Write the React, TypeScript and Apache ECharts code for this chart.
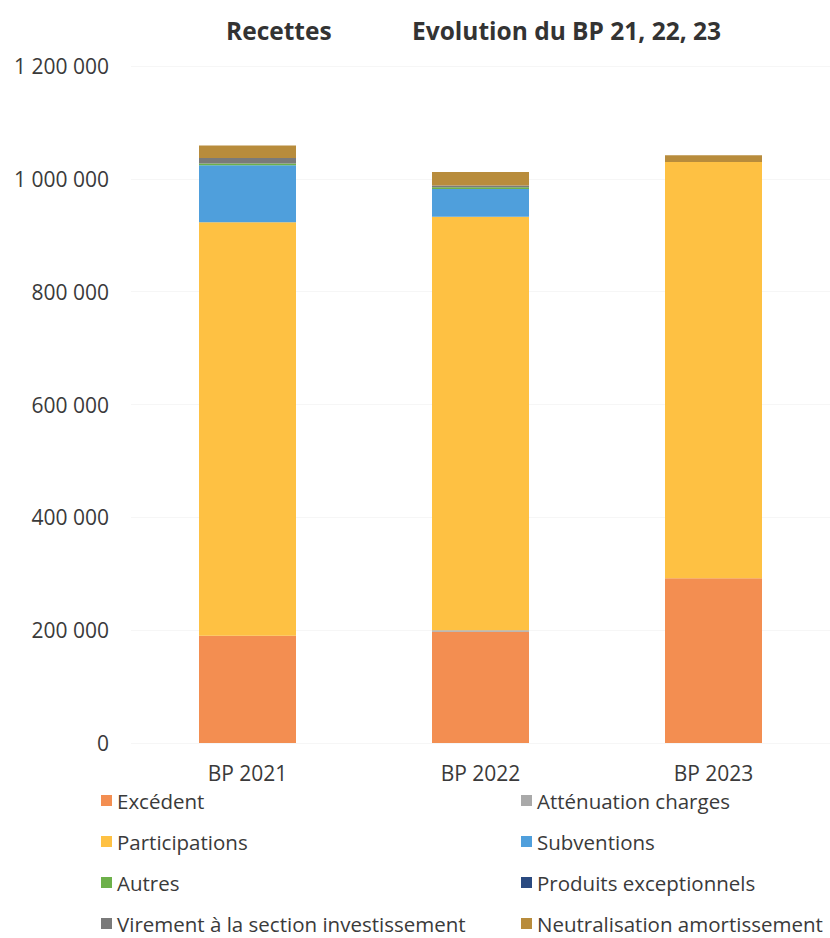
import React, { useEffect, useRef } from "react";
import * as echarts from "echarts";

const categories = ["BP 2021", "BP 2022", "BP 2023"];
const excedent = [190000, 197000, 292000];
const attenuation = [0, 3000, 0];
const participations = [733000, 733000, 738000];
const subventions = [101000, 49000, 0];
const autres = [3000, 3000, 0];
const produits = [0, 0, 0];
const virement = [10000, 3000, 0];
const neutralisation = [22000, 24000, 12000];

const seriesDefs = [
  { name: "Excédent", data: excedent, color: "#F38E51" },
  { name: "Atténuation charges", data: attenuation, color: "#A9A9A9" },
  { name: "Participations", data: participations, color: "#FEC143" },
  { name: "Subventions", data: subventions, color: "#4F9FDC" },
  { name: "Autres", data: autres, color: "#6DB04A" },
  { name: "Produits exceptionnels", data: produits, color: "#2A4A80" },
  { name: "Virement à la section investissement", data: virement, color: "#7A7A7A" },
  { name: "Neutralisation amortissement", data: neutralisation, color: "#B88C3C" },
];

const fmt = (v: number) => String(v).replace(/\B(?=(\d{3})+(?!\d))/g, " ");

export default function App() {
  const ref = useRef<HTMLDivElement>(null);
  useEffect(() => {
    if (!ref.current) return;
    const chart = echarts.init(ref.current, undefined, { renderer: "svg" });
    const font = "'Open Sans', sans-serif";
    const legendText = { fontSize: 20.5, color: "#3a3a3a", fontFamily: font, lineHeight: 20 };
    chart.setOption({
      animation: false,
      backgroundColor: "#ffffff",
      title: [
        {
          text: "Recettes",
          left: 221,
          top: 13,
          textStyle: { fontSize: 24.5, fontWeight: "bold", color: "#333", fontFamily: font },
        },
        {
          text: "Evolution du BP 21, 22, 23",
          left: 407,
          top: 13,
          textStyle: { fontSize: 24.5, fontWeight: "bold", color: "#333", fontFamily: font },
        },
      ],
      legend: [
        {
          orient: "vertical",
          left: 96,
          top: 785,
          height: 200,
          itemWidth: 11,
          itemHeight: 11,
          itemGap: 20,
          icon: "rect",
          textStyle: legendText,
          data: ["Excédent", "Participations", "Autres", "Virement à la section investissement"],
        },
        {
          orient: "vertical",
          left: 516,
          top: 785,
          height: 200,
          itemWidth: 11,
          itemHeight: 11,
          itemGap: 20,
          icon: "rect",
          textStyle: legendText,
          data: ["Atténuation charges", "Subventions", "Produits exceptionnels", "Neutralisation amortissement"],
        },
      ],
      grid: { left: 131, top: 66, width: 736, bottom: 195, containLabel: false },
      xAxis: {
        type: "category",
        data: categories,
        axisLine: { show: false },
        axisTick: { show: false },
        axisLabel: { fontSize: 21, color: "#3a3a3a", fontFamily: font, margin: 19 },
      },
      yAxis: {
        type: "value",
        min: 0,
        max: 1200000,
        interval: 200000,
        axisLine: { show: false },
        axisTick: { show: false },
        splitLine: { lineStyle: { color: "#f6f6f6", width: 1 } },
        axisLabel: {
          fontSize: 21,
          color: "#3a3a3a",
          fontFamily: font,
          margin: 22,
          formatter: (v: number) => fmt(v),
        },
      },
      series: seriesDefs.map((s) => ({
        name: s.name,
        type: "bar",
        stack: "total",
        barWidth: 97,
        data: s.data,
        itemStyle: { color: s.color },
      })),
    });
    return () => chart.dispose();
  }, []);
  return <div ref={ref} style={{ width: 830, height: 938, position: "absolute", left: 0, top: 0 }} />;
}
